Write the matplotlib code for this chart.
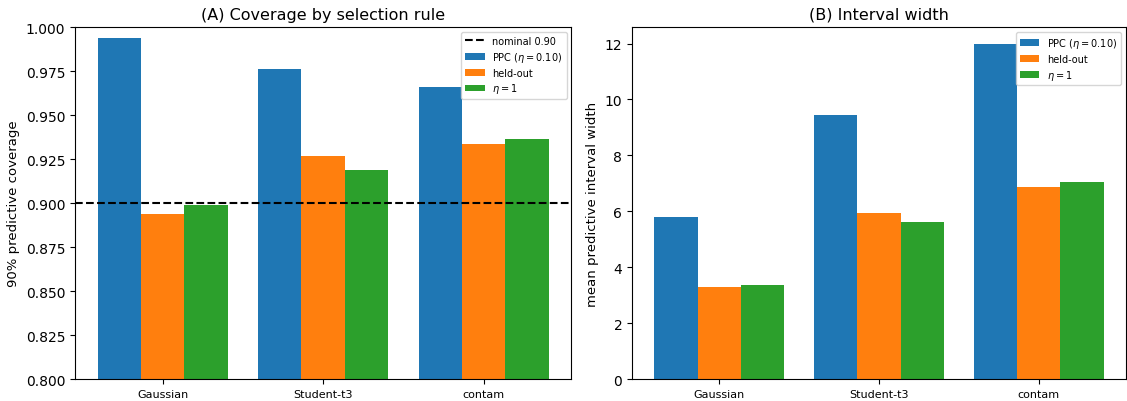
import matplotlib
matplotlib.use('Agg')
import matplotlib.pyplot as plt
import numpy as np

# data
scenarios = ['Gaussian', 'Student-t3', 'contam']
rules = ['PPC ($\\eta=0.10$)', 'held-out', '$\\eta=1$']
colors = ['#1f77b4', '#ff7f0e', '#2ca02c']

coverage_ppc = [0.9939, 0.9764, 0.9662]
coverage_heldout = [0.8936, 0.9265, 0.9338]
coverage_eta1 = [0.8989, 0.9185, 0.9361]

width_ppc = [5.81, 9.45, 11.99]
width_heldout = [3.28, 5.92, 6.88]
width_eta1 = [3.35, 5.60, 7.03]

nominal = 0.90

fig = plt.figure(figsize=(11.27, 4.02), dpi=100)
ax1 = fig.add_axes([0.0665, 0.0547, 0.4405, 0.8756])
ax2 = fig.add_axes([0.5608, 0.0547, 0.4383, 0.8756])

x = np.arange(len(scenarios))
w = 0.27

# (A) coverage
ax1.axhline(nominal, color='black', linestyle='--', linewidth=1.5, label='nominal 0.90', zorder=3)
for i, vals in enumerate([coverage_ppc, coverage_heldout, coverage_eta1]):
    ax1.bar(x + (i - 1) * w, vals, w, color=colors[i], label=rules[i])
ax1.set_ylim(0.8, 1.0)
ax1.set_xticks(x)
ax1.set_xticklabels(scenarios, fontsize=8)
ax1.set_ylabel('90% predictive coverage', fontsize=9.5)
ax1.set_title('(A) Coverage by selection rule', fontsize=11.5)
ax1.legend(fontsize=7, loc='upper right', labelspacing=0.4)

# (B) interval width
for i, vals in enumerate([width_ppc, width_heldout, width_eta1]):
    ax2.bar(x + (i - 1) * w, vals, w, color=colors[i], label=rules[i])
ax2.set_xticks(x)
ax2.set_xticklabels(scenarios, fontsize=8)
ax2.set_ylabel('mean predictive interval width', fontsize=9.5)
ax2.set_title('(B) Interval width', fontsize=11.5)
ax2.legend(fontsize=7, loc='upper right', labelspacing=0.4)

fig.savefig('out.png', dpi=100)
